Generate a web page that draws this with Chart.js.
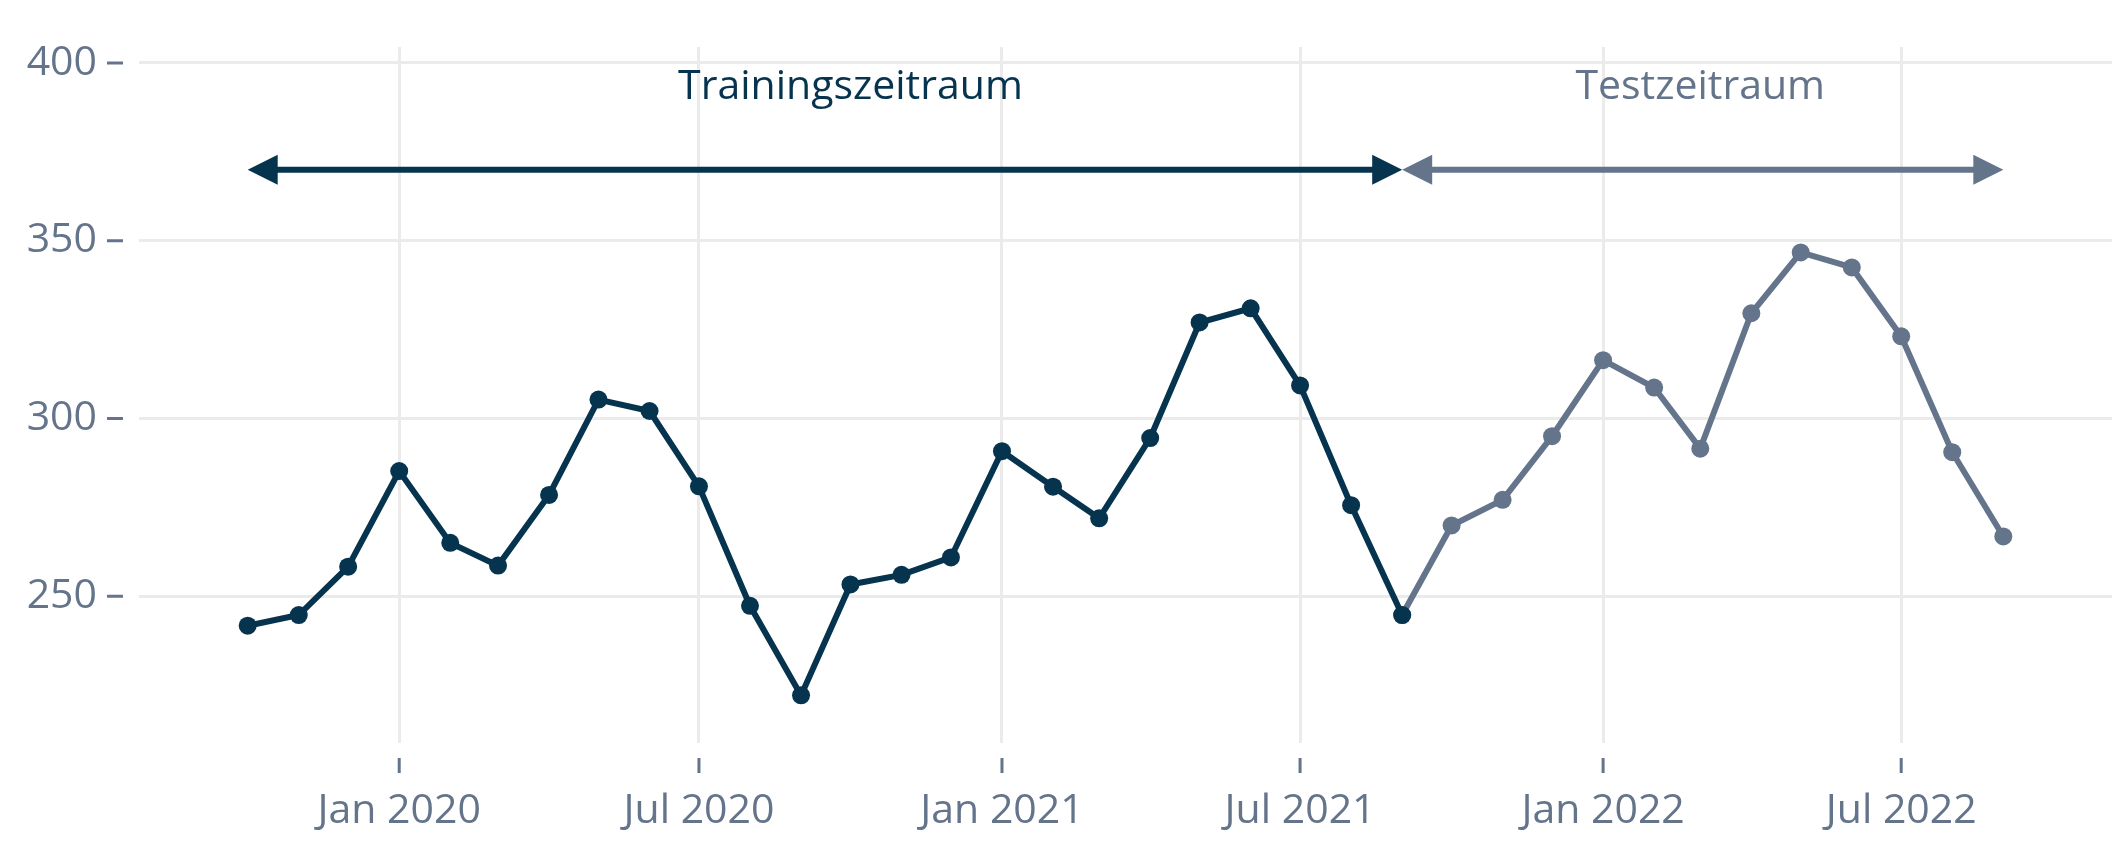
<!DOCTYPE html>
<html lang="de">
<head>
  <meta charset="UTF-8">
  <title>Trainings- und Testzeitraum</title>
  <script src="https://cdn.jsdelivr.net/npm/chart.js"></script>
  <style>
    body {
      margin: 0;
      background: white;
    }
    .chart-box {
      width: 2127px;
      height: 842px;
    }
  </style>
</head>
<body>

<div class="chart-box">
  <canvas id="grafico" width="2127" height="842"></canvas>
</div>

<script>
  // Monatswerte (jeweils zum Monatsersten)
  const trainDates = [
    "2019-10", "2019-11", "2019-12", "2020-01", "2020-02", "2020-03",
    "2020-04", "2020-05", "2020-06", "2020-07", "2020-08", "2020-09",
    "2020-10", "2020-11", "2020-12", "2021-01", "2021-02", "2021-03",
    "2021-04", "2021-05", "2021-06", "2021-07", "2021-08", "2021-09"
  ];
  const trainValues = [
    241.7, 244.7, 258.3, 285.2, 265.0, 258.6,
    278.5, 305.3, 302.1, 280.9, 247.3, 222.1,
    253.3, 256.0, 260.9, 290.8, 280.8, 271.9,
    294.5, 327.0, 331.0, 309.3, 275.6, 244.7
  ];

  const testDates = [
    "2021-09", "2021-10", "2021-11", "2021-12", "2022-01", "2022-02", "2022-03",
    "2022-04", "2022-05", "2022-06", "2022-07", "2022-08", "2022-09"
  ];
  const testValues = [
    244.7, 269.9, 277.1, 295.0, 316.4, 308.7, 291.5,
    329.6, 346.7, 342.5, 323.1, 290.5, 266.8
  ];

  const xTickDates = ["2020-01", "2020-07", "2021-01", "2021-07", "2022-01", "2022-07"];
  const xTickLabels = ["Jan 2020", "Jul 2020", "Jan 2021", "Jul 2021", "Jan 2022", "Jul 2022"];
  const yTickValues = [250, 300, 350, 400];

  const periodLabels = ["Trainingszeitraum", "Testzeitraum"];
  const periodLabelDates = ["2020-10", "2022-03"];
  const arrowLevel = 370;
  const labelLevel = 390;

  const dunkel = "#06344f";
  const grau = "#64748b";

  const zuZeit = s => {
    const [j, m] = s.split("-").map(Number);
    return Date.UTC(j, m - 1, 1);
  };

  const punkte = (daten, werte) => daten.map((d, i) => ({ x: zuZeit(d), y: werte[i] }));

  const perioden = [
    { text: periodLabels[0], von: trainDates[0], bis: trainDates[trainDates.length - 1], mitte: periodLabelDates[0], farbe: dunkel },
    { text: periodLabels[1], von: testDates[0], bis: testDates[testDates.length - 1], mitte: periodLabelDates[1], farbe: grau }
  ];

  // Pfeile, Beschriftungen und abgesetzte Tick-Striche
  const zeitraumPlugin = {
    id: "zeitraum",
    afterDraw(chart) {
      const { ctx, chartArea } = chart;
      const x = chart.scales.x, y = chart.scales.y;
      const yy = y.getPixelForValue(arrowLevel);
      const kopf = 30, halb = 15;

      perioden.forEach(p => {
        const x1 = x.getPixelForValue(zuZeit(p.von));
        const x2 = x.getPixelForValue(zuZeit(p.bis));
        ctx.save();
        ctx.strokeStyle = p.farbe;
        ctx.fillStyle = p.farbe;
        ctx.lineWidth = 6;
        ctx.beginPath();
        ctx.moveTo(x1 + kopf - 2, yy);
        ctx.lineTo(x2 - kopf + 2, yy);
        ctx.stroke();
        ctx.beginPath();
        ctx.moveTo(x1, yy);
        ctx.lineTo(x1 + kopf, yy - halb);
        ctx.lineTo(x1 + kopf, yy + halb);
        ctx.closePath();
        ctx.fill();
        ctx.beginPath();
        ctx.moveTo(x2, yy);
        ctx.lineTo(x2 - kopf, yy - halb);
        ctx.lineTo(x2 - kopf, yy + halb);
        ctx.closePath();
        ctx.fill();

        ctx.font = "41px 'Open Sans'";
        ctx.textAlign = "center";
        ctx.textBaseline = "alphabetic";
        ctx.fillText(p.text, x.getPixelForValue(zuZeit(p.mitte)), y.getPixelForValue(labelLevel));
        ctx.restore();
      });

      ctx.save();
      ctx.strokeStyle = grau;
      ctx.lineWidth = 3;
      ctx.beginPath();
      y.ticks.forEach(t => {
        const py = y.getPixelForValue(t.value);
        ctx.moveTo(chartArea.left - 32, py);
        ctx.lineTo(chartArea.left - 16, py);
      });
      x.ticks.forEach(t => {
        const px = x.getPixelForValue(t.value);
        ctx.moveTo(px, chartArea.bottom + 15);
        ctx.lineTo(px, chartArea.bottom + 30);
      });
      ctx.stroke();
      ctx.restore();
    }
  };

  const ctx = document.getElementById("grafico").getContext("2d");

  new Chart(ctx, {
    type: "line",
    data: {
      datasets: [
        {
          label: "Training",
          data: punkte(trainDates, trainValues),
          borderColor: dunkel,
          backgroundColor: dunkel,
          borderWidth: 6,
          pointRadius: 9,
          pointBorderWidth: 0,
          tension: 0
        },
        {
          label: "Test",
          data: punkte(testDates, testValues),
          borderColor: grau,
          backgroundColor: grau,
          borderWidth: 6,
          pointRadius: 9,
          pointBorderWidth: 0,
          tension: 0
        }
      ]
    },
    options: {
      responsive: false,
      animation: false,
      events: [],
      layout: { padding: { top: 47, right: 15, left: 0, bottom: 0 } },
      plugins: {
        legend: { display: false },
        tooltip: { enabled: false }
      },
      scales: {
        x: {
          type: "linear",
          min: Date.UTC(2019, 6, 27),
          max: Date.UTC(2022, 10, 6),
          afterBuildTicks: s => { s.ticks = xTickDates.map(d => ({ value: zuZeit(d) })); },
          afterFit: s => { s.height = 99; s.paddingLeft = 0; s.paddingRight = 0; },
          border: { display: false },
          grid: { color: "#ebebeb", lineWidth: 3, drawTicks: false },
          ticks: {
            padding: 44,
            color: grau,
            font: { family: "'Open Sans'", size: 41 },
            maxRotation: 0,
            autoSkip: false,
            callback: (v, i) => xTickLabels[i]
          }
        },
        y: {
          min: 208.7,
          max: 404.5,
          afterBuildTicks: s => { s.ticks = yTickValues.map(v => ({ value: v })); },
          afterFit: s => { s.width = 139; s.paddingTop = 0; s.paddingBottom = 0; },
          border: { display: false },
          grid: { color: "#ebebeb", lineWidth: 3, drawTicks: false },
          ticks: {
            padding: 42,
            color: grau,
            font: { family: "'Open Sans'", size: 41 }
          }
        }
      }
    },
    plugins: [zeitraumPlugin]
  });
</script>
</body>
</html>
